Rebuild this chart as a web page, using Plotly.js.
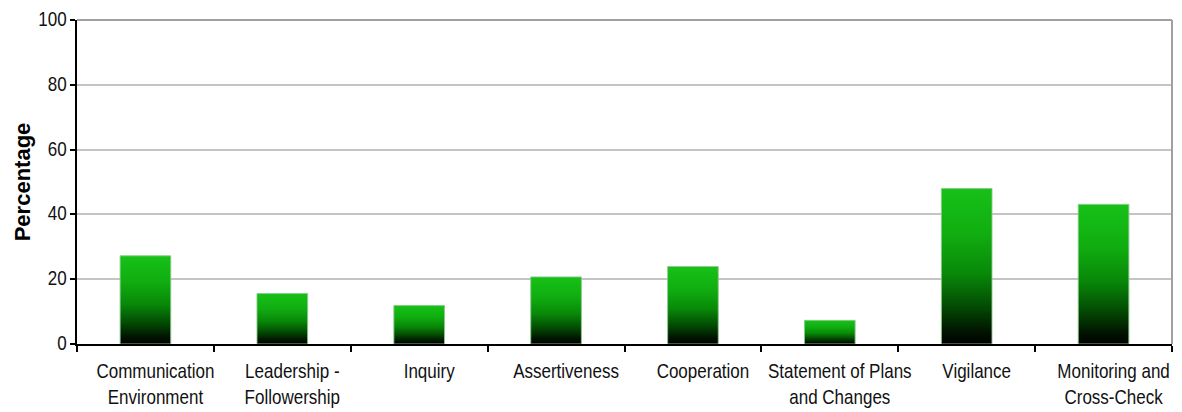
<!DOCTYPE html>
<html>
<head>
<meta charset="utf-8">
<script src="https://cdn.plot.ly/plotly-3.0.1.min.js"></script>
<style>
html, body { margin: 0; padding: 0; background: #fff; }
#chart { width: 1182px; height: 412px; }
</style>
</head>
<body>
<div id="chart"></div>
<script>
// Data
const categories = [
  "Communication<br>Environment",
  "Leadership -<br>Followership",
  "Inquiry",
  "Assertiveness",
  "Cooperation",
  "Statement of Plans<br>and Changes",
  "Vigilance",
  "Monitoring and<br>Cross-Check"
];
const percentages = [27.2, 15.6, 11.9, 20.7, 23.9, 7.3, 48.0, 43.1];
const yTickValues = [0, 20, 40, 60, 80, 100];

const labelFont = { family: "'Liberation Sans', Arial, sans-serif", size: 17, color: "#111" };

const trace = {
  type: "bar",
  x: categories,
  y: percentages,
  width: 0.37,
  marker: { color: "#12b812", line: { color: "rgba(140,200,140,0.9)", width: 1 } },
  hoverinfo: "x+y"
};

const layout = {
  width: 1182,
  height: 412,
  margin: { l: 77, r: 10, t: 20, b: 68 },
  paper_bgcolor: "#ffffff",
  plot_bgcolor: "#ffffff",
  showlegend: false,
  xaxis: {
    type: "category",
    tickson: "boundaries",
    ticks: "outside",
    ticklen: 6,
    tickwidth: 2,
    tickcolor: "#000",
    tickangle: 0,
    showline: true,
    linecolor: "#000",
    linewidth: 2,
    showgrid: false,
    tickfont: labelFont,
    ticklabelshift: 10,
    ticklabelstandoff: 12,
    automargin: false,
    fixedrange: true
  },
  yaxis: {
    range: [0, 100],
    tickvals: yTickValues,
    ticktext: yTickValues.map(String),
    ticks: "outside",
    ticklen: 5,
    tickwidth: 2,
    tickcolor: "#000",
    showline: true,
    linecolor: "#000",
    linewidth: 2,
    showgrid: true,
    gridcolor: "#c4c4c4",
    gridwidth: 2,
    zeroline: false,
    tickfont: labelFont,
    automargin: false,
    title: {
      text: "Percentage",
      font: { family: "'Liberation Sans', Arial, sans-serif", size: 22, color: "#000", weight: "bold" },
      standoff: 2
    },
    fixedrange: true
  },
  shapes: [
    { type: "line", xref: "paper", yref: "paper", x0: 0, x1: 1, y0: 1, y1: 1, line: { color: "#a0a0a0", width: 2 } },
    { type: "line", xref: "paper", yref: "paper", x0: 1, x1: 1, y0: 0, y1: 1, line: { color: "#a0a0a0", width: 2 } }
  ]
};

Plotly.newPlot("chart", [trace], layout, { staticPlot: true, displayModeBar: false }).then(function (gd) {
  // add a vertical green-to-black gradient to each bar
  const svgNS = "http://www.w3.org/2000/svg";
  const svg = gd.querySelector("svg.main-svg");
  let defs = svg.querySelector("defs");
  if (!defs) { defs = document.createElementNS(svgNS, "defs"); svg.insertBefore(defs, svg.firstChild); }
  const grad = document.createElementNS(svgNS, "linearGradient");
  grad.setAttribute("id", "barGrad");
  grad.setAttribute("x1", "0"); grad.setAttribute("y1", "0");
  grad.setAttribute("x2", "0"); grad.setAttribute("y2", "1");
  const stops = [[0, "#17c117"], [0.3, "#10ad10"], [0.55, "#088808"], [0.75, "#034e03"], [0.92, "#011401"], [1, "#000000"]];
  stops.forEach(function (s) {
    const st = document.createElementNS(svgNS, "stop");
    st.setAttribute("offset", s[0]);
    st.setAttribute("stop-color", s[1]);
    grad.appendChild(st);
  });
  defs.appendChild(grad);
  gd.querySelectorAll(".bars .point path").forEach(function (p) {
    p.style.fill = "url(#barGrad)";
  });
  // the reference's lettering is slightly tall: stretch tick labels vertically
  gd.querySelectorAll("g.xtick text, g.ytick text").forEach(function (t) {
    const y = parseFloat(t.getAttribute("y")) || 0;
    const tr = t.getAttribute("transform") || "";
    t.setAttribute("transform", tr + " translate(0 " + y + ") scale(1 1.16) translate(0 " + (-y) + ")");
  });
});
</script>
</body>
</html>
